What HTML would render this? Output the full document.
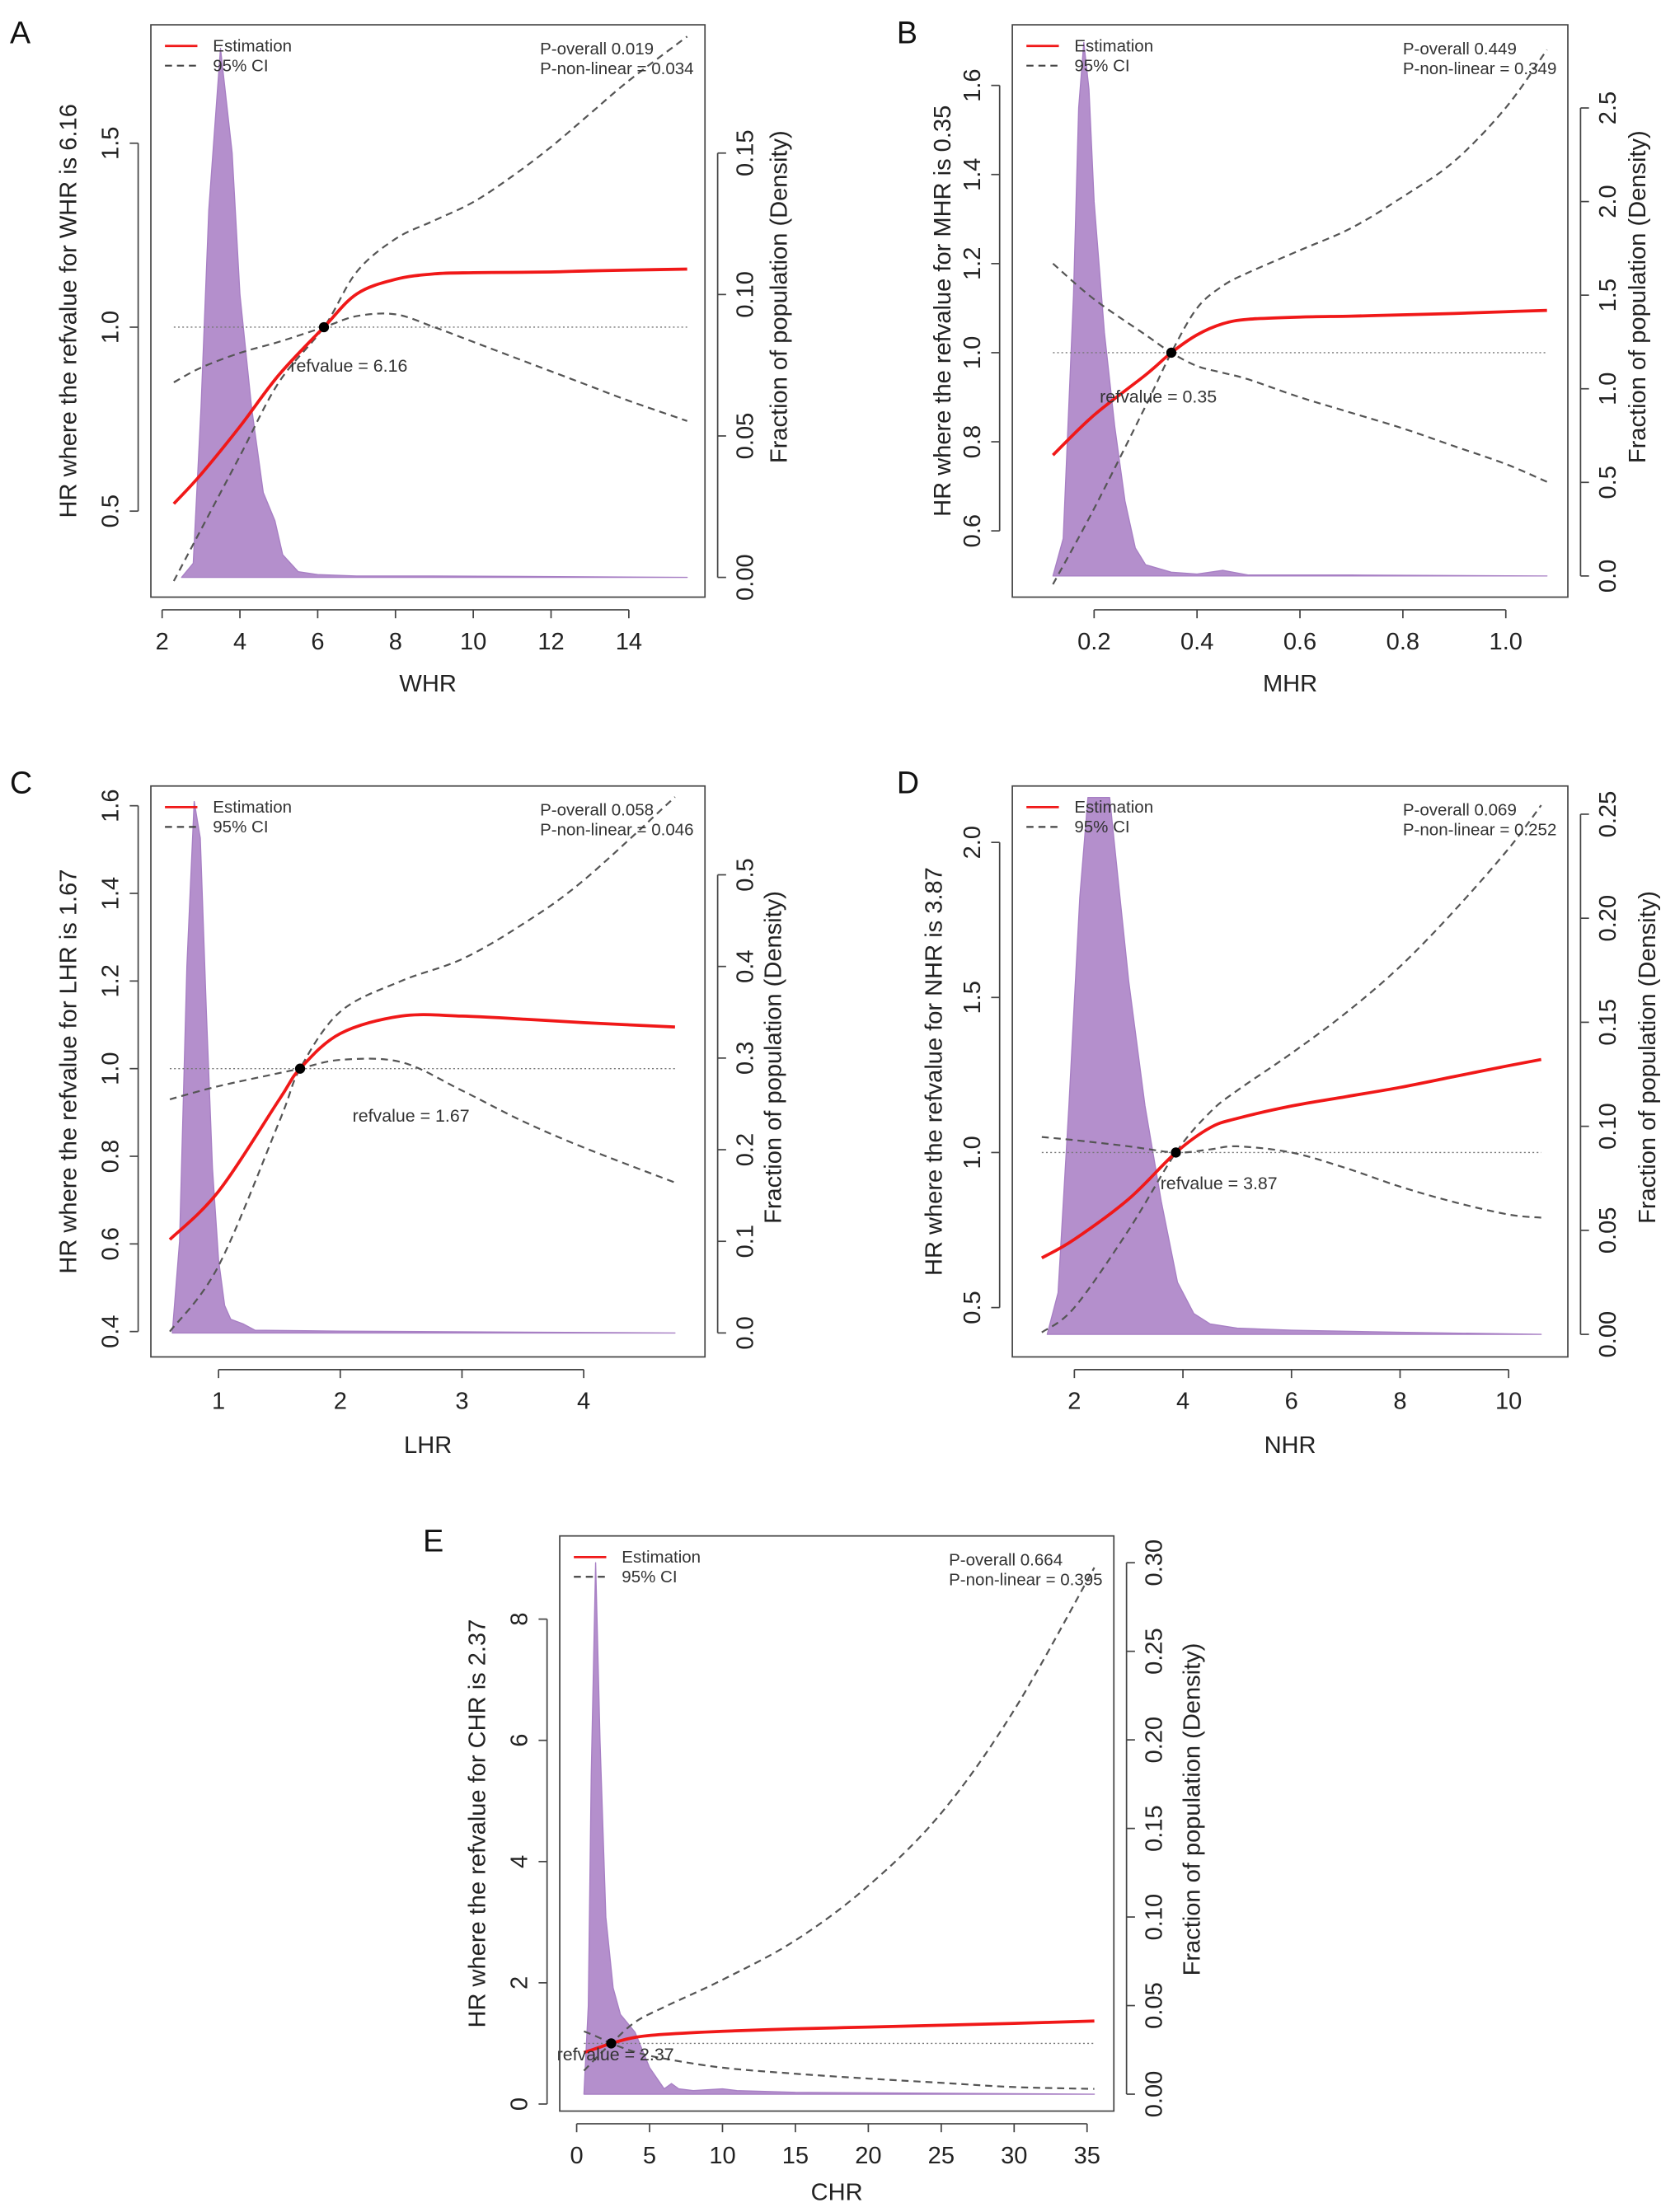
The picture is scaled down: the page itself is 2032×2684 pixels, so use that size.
<!DOCTYPE html>
<html><head><meta charset="utf-8"><style>
html,body{margin:0;padding:0;background:#fff;}
svg{display:block;font-family:"Liberation Sans",Arial,sans-serif;}
</style></head><body>
<svg id="fig" width="2032" height="2684" viewBox="0 0 1188 1568" xmlns="http://www.w3.org/2000/svg"></svg>
<script>
// ===== Panel A (WHR) =====
const A_x = [2.3, 3, 4, 5, 6.16, 7, 8, 9, 10, 11, 12, 13, 14, 15.5];
const A_est = [0.52, 0.6, 0.73, 0.87, 1.0, 1.09, 1.13, 1.145, 1.148, 1.149, 1.15, 1.153, 1.155, 1.158];
const A_upper = [0.31, 0.45, 0.65, 0.85, 1.0, 1.15, 1.24, 1.29, 1.34, 1.41, 1.49, 1.58, 1.67, 1.79];
const A_lower = [0.85, 0.89, 0.93, 0.96, 1.0, 1.03, 1.035, 1.0, 0.96, 0.92, 0.88, 0.84, 0.8, 0.745];
const A_dx = [2.5, 2.8, 3.0, 3.2, 3.5, 3.8, 4.0, 4.3, 4.6, 4.9, 5.1, 5.5, 6, 7, 9, 15.5];
const A_dy = [0, 0.005, 0.06, 0.13, 0.187, 0.15, 0.1, 0.06, 0.03, 0.02, 0.008, 0.002, 0.001, 0.0005, 0.0005, 0];
const A_xt = [2, 4, 6, 8, 10, 12, 14];
const A_yt = ["0.5", "1.0", "1.5"];
const A_dt = ["0.00", "0.05", "0.10", "0.15"];
// ===== Panel B (MHR) =====
const B_x = [0.12, 0.2, 0.3, 0.35, 0.4, 0.45, 0.5, 0.6, 0.7, 0.8, 0.9, 1.0, 1.08];
const B_est = [0.77, 0.86, 0.95, 1.0, 1.04, 1.065, 1.075, 1.08, 1.082, 1.085, 1.088, 1.092, 1.095];
const B_upper = [0.48, 0.65, 0.88, 1.0, 1.1, 1.15, 1.18, 1.23, 1.28, 1.35, 1.43, 1.55, 1.68];
const B_lower = [1.2, 1.12, 1.04, 1.0, 0.97, 0.955, 0.94, 0.9, 0.865, 0.83, 0.79, 0.75, 0.71];
const B_dx = [0.12, 0.14, 0.16, 0.17, 0.18, 0.19, 0.2, 0.22, 0.24, 0.26, 0.28, 0.3, 0.35, 0.4, 0.45, 0.5, 0.7, 1.08];
const B_dy = [0, 0.2, 1.5, 2.5, 2.85, 2.6, 2.0, 1.3, 0.8, 0.4, 0.15, 0.06, 0.02, 0.01, 0.03, 0.005, 0.005, 0];
const B_xt = ["0.2", "0.4", "0.6", "0.8", "1.0"];
const B_yt = ["0.6", "0.8", "1.0", "1.2", "1.4", "1.6"];
const B_dt = ["0.0", "0.5", "1.0", "1.5", "2.0", "2.5"];
// ===== Panel C (LHR) =====
const C_x = [0.6, 1, 1.5, 1.67, 2, 2.5, 3, 3.5, 4, 4.75];
const C_est = [0.61, 0.72, 0.93, 1.0, 1.08, 1.12, 1.12, 1.113, 1.105, 1.095];
const C_upper = [0.4, 0.55, 0.88, 1.0, 1.13, 1.2, 1.25, 1.33, 1.43, 1.62];
const C_lower = [0.93, 0.96, 0.99, 1.0, 1.02, 1.015, 0.95, 0.88, 0.82, 0.74];
const C_dx = [0.62, 0.68, 0.74, 0.8, 0.85, 0.9, 0.95, 1.0, 1.05, 1.1, 1.2, 1.3, 2, 4.75];
const C_dy = [0, 0.1, 0.4, 0.58, 0.54, 0.35, 0.18, 0.08, 0.03, 0.015, 0.01, 0.003, 0.002, 0];
const C_xt = [1, 2, 3, 4];
const C_yt = ["0.4", "0.6", "0.8", "1.0", "1.2", "1.4", "1.6"];
const C_dt = ["0.0", "0.1", "0.2", "0.3", "0.4", "0.5"];
// ===== Panel D (NHR) =====
const D_x = [1.4, 2, 3, 3.87, 4.5, 5, 6, 7, 8, 9, 10, 10.6];
const D_est = [0.66, 0.72, 0.85, 1.0, 1.08, 1.11, 1.15, 1.18, 1.21, 1.245, 1.28, 1.3];
const D_upper = [0.42, 0.5, 0.75, 1.0, 1.13, 1.2, 1.32, 1.45, 1.6, 1.78, 1.98, 2.12];
const D_lower = [1.05, 1.04, 1.02, 1.0, 1.01, 1.02, 1.0, 0.95, 0.89, 0.84, 0.8, 0.79];
const D_dx = [1.5, 1.7, 1.9, 2.1, 2.25, 2.65, 2.8, 3.0, 3.3, 3.6, 3.9, 4.2, 4.5, 5, 6, 8, 10.6];
const D_dy = [0, 0.02, 0.11, 0.21, 0.258, 0.258, 0.22, 0.17, 0.11, 0.064, 0.025, 0.01, 0.005, 0.003, 0.002, 0.001, 0];
const D_xt = [2, 4, 6, 8, 10];
const D_yt = ["0.5", "1.0", "1.5", "2.0"];
const D_dt = ["0.00", "0.05", "0.10", "0.15", "0.20", "0.25"];
// ===== Panel E (CHR) =====
const E_x = [0.5, 1.5, 2.37, 4, 6, 10, 15, 20, 25, 30, 35.5];
const E_est = [0.85, 0.93, 1.0, 1.1, 1.15, 1.2, 1.24, 1.27, 1.3, 1.33, 1.37];
const E_upper = [0.55, 0.8, 1.0, 1.35, 1.6, 2.05, 2.7, 3.6, 4.8, 6.5, 8.85];
const E_lower = [1.2, 1.1, 1.0, 0.86, 0.75, 0.6, 0.5, 0.42, 0.35, 0.28, 0.25];
const E_dx = [0.5, 0.8, 1.0, 1.3, 1.6, 2.0, 2.5, 3, 4, 5, 6, 6.5, 7, 8, 10, 11, 15, 35.5];
const E_dy = [0, 0.05, 0.18, 0.3, 0.2, 0.1, 0.06, 0.045, 0.035, 0.015, 0.003, 0.006, 0.003, 0.002, 0.003, 0.002, 0.001, 0];
const E_xt = [0, 5, 10, 15, 20, 25, 30, 35];
const E_yt = ["0", "2", "4", "6", "8"];
const E_dt = ["0.00", "0.05", "0.10", "0.15", "0.20", "0.25", "0.30"];

const NS = "http://www.w3.org/2000/svg";
const fig = document.getElementById('fig');
function mk(tag, attrs, parent) {
  const e = document.createElementNS(NS, tag);
  for (const k in attrs) e.setAttribute(k, attrs[k]);
  (parent || fig).appendChild(e);
  return e;
}
function lin(v0, p0, v1, p1) { return v => p0 + (v - v0) * (p1 - p0) / (v1 - v0); }
function smooth(pts) {
  let d = "M" + pts[0][0].toFixed(2) + "," + pts[0][1].toFixed(2);
  for (let i = 0; i < pts.length - 1; i++) {
    const p0 = pts[i - 1] || pts[i], p1 = pts[i], p2 = pts[i + 1], p3 = pts[i + 2] || p2;
    const c1 = [p1[0] + (p2[0] - p0[0]) / 6, p1[1] + (p2[1] - p0[1]) / 6];
    const c2 = [p2[0] - (p3[0] - p1[0]) / 6, p2[1] - (p3[1] - p1[1]) / 6];
    d += "C" + c1.map(v => v.toFixed(2)).join(",") + " " + c2.map(v => v.toFixed(2)).join(",") + " " + p2[0].toFixed(2) + "," + p2[1].toFixed(2);
  }
  return d;
}
function poly(pts) { return "M" + pts.map(p => p[0].toFixed(2) + "," + p[1].toFixed(2)).join("L"); }

function panel(c) {
  const g = mk('g', {});
  
  
  const X = lin(c.xc[0], c.xc[1], c.xc[2], c.xc[3]);
  const Y = lin(c.yc[0], c.yc[1], c.yc[2], c.yc[3]);
  const DY = lin(c.dc[0], c.dc[1], c.dc[2], c.dc[3]);
  const b = c.box;
  let dp = c.dx.map((x, i) => [X(x), DY(c.dy[i])]);
  let dd = poly(dp) + "L" + X(c.dx[c.dx.length - 1]) + "," + DY(0) + "L" + X(c.dx[0]) + "," + DY(0) + "Z";
  const area = mk('path', { d: dd, fill: '#b48fcc', stroke: '#a77fc4', 'stroke-width': 0.8, 'stroke-linejoin': 'round' }, g);
  
  
  const rl = mk('line', { x1: X(c.x[0]), x2: X(c.x[c.x.length - 1]), y1: Y(1), y2: Y(1), stroke: '#777', 'stroke-width': 0.8, 'stroke-dasharray': '1.2,1.8' }, g);
  
  
  [['upper', c.up], ['lower', c.lo]].forEach(([nm, arr]) => {
    const p = mk('path', { d: smooth(c.x.map((x, i) => [X(x), Y(arr[i])])), fill: 'none', stroke: '#555', 'stroke-width': 1.3, 'stroke-dasharray': '5,3.5' }, g);
    
    
  });
  const est = mk('path', { d: smooth(c.x.map((x, i) => [X(x), Y(c.est[i])])), fill: 'none', stroke: '#f01818', 'stroke-width': 2.2 }, g);
  
  
  const dot = mk('circle', { cx: X(c.ref), cy: Y(1), r: 3.6, fill: '#000' }, g);
  
  
  const rt = mk('text', { x: c.refLbl[0], y: c.refLbl[1], 'font-size': 12.5, fill: '#333' }, g);
  rt.textContent = 'refvalue = ' + c.ref;
  
  
  const bx = mk('rect', { x: b[0], y: b[1], width: b[2] - b[0], height: b[3] - b[1], fill: 'none', stroke: '#444', 'stroke-width': 1 }, g);
  
  
  const ay = b[3] + 9;
  const xa = mk('g', {}, g);
  
  
  mk('line', { x1: X(+c.xt[0]), x2: X(+c.xt[c.xt.length - 1]), y1: ay, y2: ay, stroke: '#444', 'stroke-width': 1 }, xa);
  c.xt.forEach(t => {
    mk('line', { x1: X(+t), x2: X(+t), y1: ay, y2: ay + 6, stroke: '#444', 'stroke-width': 1 }, xa);
    const tx = mk('text', { x: X(+t), y: ay + 28, 'font-size': 17, 'text-anchor': 'middle', fill: '#222' }, xa);
    tx.textContent = t;
  });
  const xl = mk('text', { x: (b[0] + b[2]) / 2, y: c.xlabY, 'font-size': 17, 'text-anchor': 'middle', fill: '#222' }, g);
  xl.textContent = c.name;
  
  
  const lx = b[0] - 9;
  const ya = mk('g', {}, g);
  
  
  mk('line', { x1: lx, x2: lx, y1: Y(+c.yt[0]), y2: Y(+c.yt[c.yt.length - 1]), stroke: '#444', 'stroke-width': 1 }, ya);
  c.yt.forEach(t => {
    mk('line', { x1: lx, x2: lx - 6, y1: Y(+t), y2: Y(+t), stroke: '#444', 'stroke-width': 1 }, ya);
    const tx = mk('text', { x: 0, y: 0, 'font-size': 17, 'text-anchor': 'middle', fill: '#222', transform: `translate(${lx - 14},${Y(+t)}) rotate(-90)` }, ya);
    tx.textContent = t;
  });
  const yl = mk('text', { x: 0, y: 0, 'font-size': 17, 'text-anchor': 'middle', fill: '#222', transform: `translate(${c.ylabX},${(b[1] + b[3]) / 2}) rotate(-90)` }, g);
  yl.textContent = 'HR where the refvalue for ' + c.name + ' is ' + c.ref;
  
  
  const rx = b[2] + 9;
  const ra = mk('g', {}, g);
  
  
  mk('line', { x1: rx, x2: rx, y1: DY(+c.dt[0]), y2: DY(+c.dt[c.dt.length - 1]), stroke: '#444', 'stroke-width': 1 }, ra);
  c.dt.forEach(t => {
    mk('line', { x1: rx, x2: rx + 6, y1: DY(+t), y2: DY(+t), stroke: '#444', 'stroke-width': 1 }, ra);
    const tx = mk('text', { x: 0, y: 0, 'font-size': 17, 'text-anchor': 'middle', fill: '#222', transform: `translate(${rx + 25},${DY(+t)}) rotate(-90)` }, ra);
    tx.textContent = t;
  });
  const dl = mk('text', { x: 0, y: 0, 'font-size': 17, 'text-anchor': 'middle', fill: '#222', transform: `translate(${c.dlabX},${(b[1] + b[3]) / 2 - 10}) rotate(-90)` }, g);
  dl.textContent = 'Fraction of population (Density)';
  
  
  const lg = mk('g', {}, g);
  
  
  mk('line', { x1: b[0] + 10, x2: b[0] + 33, y1: b[1] + 15, y2: b[1] + 15, stroke: '#f01818', 'stroke-width': 1.6 }, lg);
  mk('line', { x1: b[0] + 10, x2: b[0] + 33, y1: b[1] + 29, y2: b[1] + 29, stroke: '#444', 'stroke-width': 1.3, 'stroke-dasharray': '5,3.5' }, lg);
  const l1 = mk('text', { x: b[0] + 44, y: b[1] + 19, 'font-size': 12, fill: '#333' }, lg); l1.textContent = 'Estimation';
  const l2 = mk('text', { x: b[0] + 44, y: b[1] + 33, 'font-size': 12, fill: '#333' }, lg); l2.textContent = '95% CI';
  const pv = mk('g', {}, g);
  
  
  const p1 = mk('text', { x: b[2] - 117, y: b[1] + 21, 'font-size': 12, fill: '#333' }, pv); p1.textContent = 'P-overall ' + c.po;
  const p2 = mk('text', { x: b[2] - 117, y: b[1] + 35, 'font-size': 12, fill: '#333' }, pv); p2.textContent = 'P-non-linear = ' + c.pn;
  const pl = mk('text', { x: c.letter[0], y: c.letter[1], 'font-size': 22, fill: '#111' }, g);
  pl.textContent = c.id;
  
  
}

panel({ id: 'A', name: 'WHR', ref: '6.16', po: '0.019', pn: '0.034', box: [107, 17, 500, 423],
  xc: [2, 115, 14, 446], yc: [0.5, 362, 1.5, 101], dc: [0, 409, 0.15, 108],
  x: A_x, est: A_est, up: A_upper, lo: A_lower, dx: A_dx, dy: A_dy, xt: A_xt, yt: A_yt, dt: A_dt,
  refLbl: [206, 263], xlabY: 490, ylabX: 54, dlabX: 558, letter: [7, 30] });
panel({ id: 'B', name: 'MHR', ref: '0.35', po: '0.449', pn: '0.349', box: [718, 17, 1112, 423],
  xc: [0.2, 776, 1.0, 1068], yc: [0.6, 376, 1.6, 60], dc: [0, 408, 2.5, 76],
  x: B_x, est: B_est, up: B_upper, lo: B_lower, dx: B_dx, dy: B_dy, xt: B_xt, yt: B_yt, dt: B_dt,
  refLbl: [780, 285], xlabY: 490, ylabX: 674, dlabX: 1167, letter: [636, 30] });
panel({ id: 'C', name: 'LHR', ref: '1.67', po: '0.058', pn: '0.046', box: [107, 557, 500, 962],
  xc: [1, 155, 4, 414], yc: [0.4, 944, 1.6, 571], dc: [0, 945, 0.5, 620],
  x: C_x, est: C_est, up: C_upper, lo: C_lower, dx: C_dx, dy: C_dy, xt: C_xt, yt: C_yt, dt: C_dt,
  refLbl: [250, 795], xlabY: 1030, ylabX: 54, dlabX: 554, letter: [7, 562] });
panel({ id: 'D', name: 'NHR', ref: '3.87', po: '0.069', pn: '0.252', box: [718, 557, 1112, 962],
  xc: [2, 762, 10, 1070], yc: [0.5, 927, 2.0, 597], dc: [0, 946, 0.25, 577],
  x: D_x, est: D_est, up: D_upper, lo: D_lower, dx: D_dx, dy: D_dy, xt: D_xt, yt: D_yt, dt: D_dt,
  refLbl: [823, 843], xlabY: 1030, ylabX: 668, dlabX: 1174, letter: [636, 562] });
panel({ id: 'E', name: 'CHR', ref: '2.37', po: '0.664', pn: '0.395', box: [397, 1089, 790, 1497],
  xc: [0, 409, 35, 771], yc: [0, 1492, 8, 1148], dc: [0, 1485, 0.3, 1108],
  x: E_x, est: E_est, up: E_upper, lo: E_lower, dx: E_dx, dy: E_dy, xt: E_xt, yt: E_yt, dt: E_dt,
  refLbl: [395, 1461], xlabY: 1560, ylabX: 344, dlabX: 851, letter: [300, 1100] });
</script>
</body></html>
